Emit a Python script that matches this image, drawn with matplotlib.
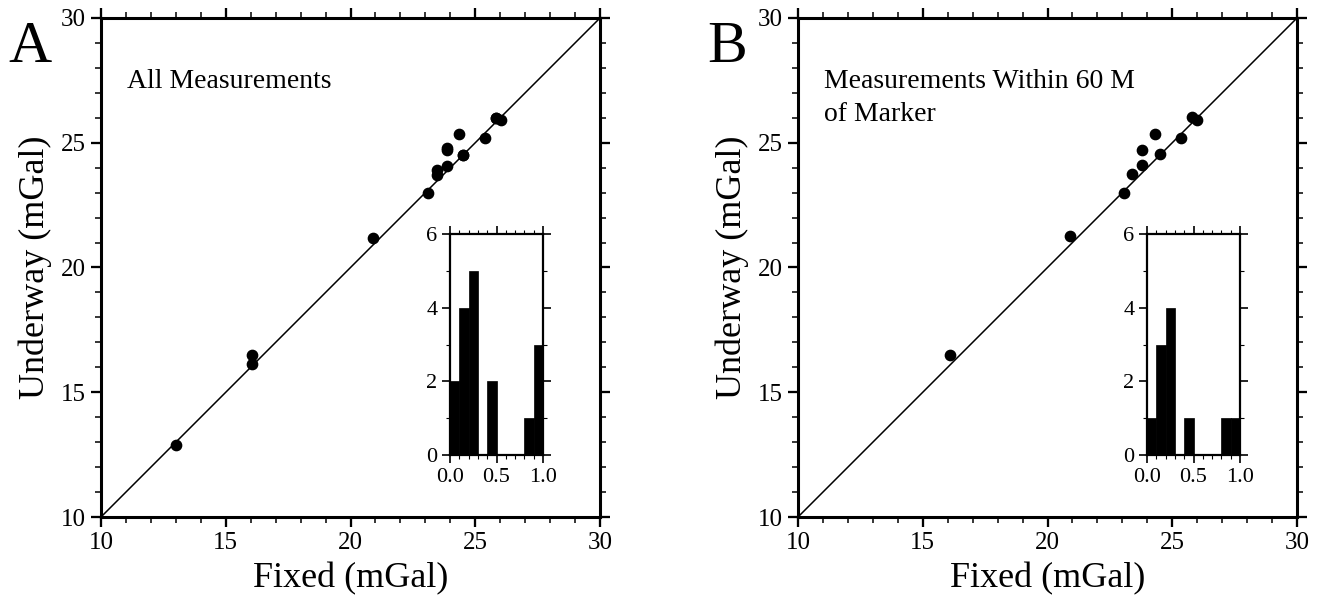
import matplotlib.pyplot as plt
import numpy as np
from matplotlib.ticker import MultipleLocator

plt.rcParams['font.family'] = ['Liberation Serif', 'DejaVu Serif']

# Panel A: all measurements (fixed vs underway, mGal)
fixed_a = [13.0, 16.05, 16.05, 20.9, 23.1, 23.45, 23.45, 23.85, 23.85, 23.85,
           24.35, 24.5, 24.5, 25.4, 25.85, 26.05, 25.85]
under_a = [12.9, 16.5, 16.15, 21.2, 23.0, 23.9, 23.7, 24.05, 24.8, 24.7,
           25.35, 24.5, 24.5, 25.2, 26.0, 25.9, 26.0]

# Panel B: measurements within 60 m of marker
fixed_b = [16.1, 20.9, 23.05, 23.4, 23.8, 23.8, 24.3, 24.5, 25.35, 25.8, 26.0]
under_b = [16.5, 21.25, 23.0, 23.75, 24.1, 24.7, 25.35, 24.55, 25.2, 26.05, 25.9]

# inset histograms (difference, mGal): bin edges and counts
bin_edges = [0.0, 0.1, 0.2, 0.3, 0.4, 0.5, 0.6, 0.7, 0.8, 0.9, 1.0]
counts_a = [2, 4, 5, 0, 2, 0, 0, 0, 1, 3]
counts_b = [1, 3, 4, 0, 1, 0, 0, 0, 1, 1]

W, H = 1319, 603


def frac(x0, y0, x1, y1):
    """Pixel box (left, top, right, bottom) -> figure fraction rect."""
    return [x0 / W, 1 - y1 / H, (x1 - x0) / W, (y1 - y0) / H]


def style_axes(ax, lw, major_len, minor_len, fs, pad=3):
    for s in ax.spines.values():
        s.set_linewidth(lw)
    ax.tick_params(which='both', direction='out', top=True, right=True,
                   labeltop=False, labelright=False, labelsize=fs, color='black')
    ax.tick_params(which='major', length=major_len, width=lw * 0.75, pad=pad)
    ax.tick_params(which='minor', length=minor_len, width=lw * 0.5)


def panel(left, fixed, under, counts, letter, note):
    ax = fig.add_axes(frac(left, 18, left + 499, 517))
    ax.plot([10, 30], [10, 30], color='black', lw=1.1)
    ax.scatter(fixed, under, s=55, color='black', zorder=3, clip_on=False)
    ax.set_xlim(10, 30)
    ax.set_ylim(10, 30)
    ax.xaxis.set_major_locator(MultipleLocator(5))
    ax.yaxis.set_major_locator(MultipleLocator(5))
    ax.xaxis.set_minor_locator(MultipleLocator(1))
    ax.yaxis.set_minor_locator(MultipleLocator(1))
    style_axes(ax, 2.2, 7, 4, 18, pad=4)
    ax.set_xlabel('Fixed (mGal)', fontsize=26, labelpad=6)
    ax.set_ylabel('Underway (mGal)', fontsize=26, labelpad=6)
    ax.text(0.052, 0.898, note, transform=ax.transAxes, fontsize=20,
            ha='left', va='top', linespacing=1.45)
    fig.text((left - 71) / W, 1 - 48 / H, letter, fontsize=43,
             ha='center', va='center')

    ins = fig.add_axes(frac(left + 349, 234, left + 442, 455))
    ins.bar(bin_edges[:-1], counts, width=np.diff(bin_edges), align='edge',
            color='black', edgecolor='black', lw=0.5)
    ins.set_xlim(0, 1)
    ins.set_ylim(0, 6)
    ins.xaxis.set_major_locator(MultipleLocator(0.5))
    ins.xaxis.set_minor_locator(MultipleLocator(0.1))
    ins.yaxis.set_major_locator(MultipleLocator(2))
    ins.yaxis.set_minor_locator(MultipleLocator(1))
    ins.xaxis.set_major_formatter(lambda v, p: f'{v:.1f}')
    style_axes(ins, 1.6, 6, 3, 16)
    return ax


fig = plt.figure(figsize=(W / 100, H / 100), dpi=100)
panel(101, fixed_a, under_a, counts_a, 'A', 'All Measurements')
panel(798, fixed_b, under_b, counts_b, 'B', 'Measurements Within 60 M\nof Marker')

fig.savefig('out.png', dpi=100, facecolor='white')
